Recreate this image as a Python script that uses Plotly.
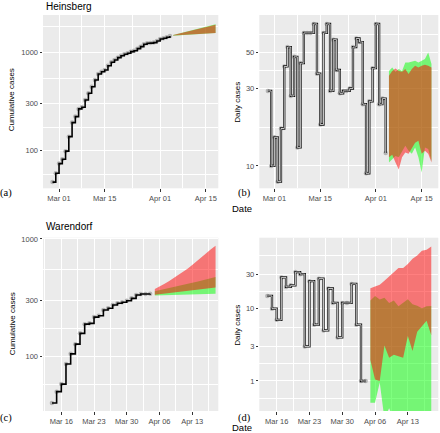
import plotly.graph_objects as go
import pandas as pd

W, H = 440, 433

# ---------------- data ----------------
hb_start = "2020-02-28"
wd_start = "2020-03-14"
fc_start = "2020-04-05"

hb_cum = [48, 59, 74, 82, 99, 139, 193, 222, 266, 276, 327, 383, 447, 523, 601, 635, 661,
          731, 791, 835, 882, 924, 955, 978, 1015, 1038, 1089, 1141, 1207, 1236, 1240, 1254,
          1304, 1366, 1387, 1420, 1465]
hb_daily = [29, 10, 15, 8, 17, 41, 54, 27, 47, 13, 43, 66, 66, 66, 75, 37, 18, 66, 75, 29,
            60, 39, 28, 29, 29, 30, 54, 61, 58, 24, 9, 25, 40, 75, 24, 26, 12]

wd_cum = [40, 50, 58, 86, 105, 127, 157, 188, 191, 216, 222, 248, 257, 274, 283, 289, 298,
          312, 333, 340, 340, 342]
wd_daily = [15, 10, 7, 27, 20, 21, 32, 30, 3, 24, 6, 26, 5, 19, 12, 4, 12, 12, 22, 6, 1, 1]

# forecasts (Apr 05 - Apr 18): green band and red band
hb_cum_green_lo = [1476, 1483, 1490, 1497, 1504, 1511, 1518, 1525, 1532, 1539, 1546, 1553, 1560, 1567]
hb_cum_green_hi = [1500, 1530, 1562, 1594, 1626, 1658, 1690, 1722, 1755, 1788, 1822, 1857, 1893, 1930]
hb_cum_red_lo = [1478, 1485, 1492, 1499, 1506, 1513, 1520, 1527, 1534, 1541, 1548, 1555, 1562, 1569]
hb_cum_red_hi = [1495, 1524, 1553, 1582, 1611, 1641, 1671, 1701, 1732, 1763, 1795, 1827, 1860, 1905]

hb_day_green_lo = [10.5, 11, 11.5, 11.3, 12.4, 13.3, 12.4, 11.9, 13, 11.3, 9.1, 13, 12.7, 10.7]
hb_day_green_hi = [38.5, 40.4, 38, 39.6, 38.5, 43.4, 43.4, 44, 44.5, 43.4, 44.5, 45.6, 50, 42.5]
hb_day_red_lo = [11.3, 11.7, 10.5, 9.5, 11.3, 12.1, 11.9, 13, 13.9, 14.3, 11.9, 12.4, 11.9, 10.5]
hb_day_red_hi = [36, 38.5, 39.9, 38.5, 38, 39.6, 36.8, 39.6, 41.4, 40.4, 41.4, 42, 41.4, 40.4]

wd_cum_green_lo = [330, 331, 332, 333, 334, 335, 336, 336, 337, 338, 338, 339, 340, 341]
wd_cum_green_hi = [358, 365, 372, 380, 388, 396, 405, 414, 423, 433, 443, 453, 463, 474]
wd_cum_red_lo = [334, 338, 342, 346, 350, 354, 358, 362, 366, 370, 374, 378, 382, 386]
wd_cum_red_hi = [375, 392, 413, 436, 462, 490, 523, 559, 600, 645, 693, 755, 817, 877]

wd_day_green_lo = [0.5, 0.5, 0.95, 0.3, 0.42, 0.3, 0.25, 0.22, 0.2, 0.2, 0.2, 0.2, 0.2, 0.2]
wd_day_green_hi = [13, 15, 13.4, 14.1, 12, 13, 10.8, 12.2, 13.5, 11.5, 11, 10.1, 10.8, 10.9]
wd_day_red_lo = [1.95, 1.05, 1.0, 3.1, 2.1, 2.3, 2.2, 2.1, 4.2, 2.6, 4.8, 5.7, 6.8, 4.3]
wd_day_red_hi = [19.2, 20.2, 21.4, 24.3, 27.8, 32, 36.4, 36.4, 41.3, 49, 54.5, 63, 65, 72.5]

hb_xticks = ["2020-03-01", "2020-03-15", "2020-04-01", "2020-04-15"]
hb_xticklabels = ["Mar 01", "Mar 15", "Apr 01", "Apr 15"]
wd_xticks = ["2020-03-16", "2020-03-23", "2020-03-30", "2020-04-06", "2020-04-13"]
wd_xticklabels = ["Mar 16", "Mar 23", "Mar 30", "Apr 06", "Apr 13"]

# ---------------- figure ----------------
fig = go.Figure()

GREEN = "rgba(0,255,0,0.5)"
RED = "rgba(255,0,0,0.5)"


def dates(start, n):
    return pd.date_range(start, periods=n, freq="D")


def band(ax, lo, hi, color):
    d = dates(fc_start, len(lo))
    xa, ya = ax
    fig.add_trace(go.Scatter(x=d, y=lo, mode="lines", line=dict(width=0, color=color),
                             xaxis=xa, yaxis=ya, showlegend=False, hoverinfo="skip"))
    fig.add_trace(go.Scatter(x=d, y=hi, mode="lines", line=dict(width=0, color=color),
                             fill="tonexty", fillcolor=color,
                             xaxis=xa, yaxis=ya, showlegend=False, hoverinfo="skip"))


def observed(ax, start, vals, hollow):
    d = dates(start, len(vals))
    xa, ya = ax
    fig.add_trace(go.Scatter(x=d, y=vals, mode="markers",
                             marker=dict(size=4.5, color="rgba(160,160,160,0.75)"),
                             xaxis=xa, yaxis=ya, showlegend=False))
    if hollow:
        fig.add_trace(go.Scatter(x=d, y=vals, mode="lines", line=dict(shape="hv", width=2.3, color="#111111"),
                                 xaxis=xa, yaxis=ya, showlegend=False))
        fig.add_trace(go.Scatter(x=d, y=vals, mode="lines", line=dict(shape="hv", width=0.8, color="#F2F2F2"),
                                 xaxis=xa, yaxis=ya, showlegend=False))
    else:
        fig.add_trace(go.Scatter(x=d, y=vals, mode="lines", line=dict(shape="hv", width=1.6, color="black"),
                                 xaxis=xa, yaxis=ya, showlegend=False))


A = ("x", "y")
B = ("x2", "y2")
C = ("x3", "y3")
D = ("x4", "y4")

band(A, hb_cum_green_lo, hb_cum_green_hi, GREEN)
band(A, hb_cum_red_lo, hb_cum_red_hi, RED)
observed(A, hb_start, hb_cum, False)

band(B, hb_day_green_lo, hb_day_green_hi, GREEN)
band(B, hb_day_red_lo, hb_day_red_hi, RED)
observed(B, hb_start, hb_daily, True)

band(C, wd_cum_green_lo, wd_cum_green_hi, GREEN)
band(C, wd_cum_red_lo, wd_cum_red_hi, RED)
observed(C, wd_start, wd_cum, False)

band(D, wd_day_green_lo, wd_day_green_hi, GREEN)
band(D, wd_day_red_lo, wd_day_red_hi, RED)
observed(D, wd_start, wd_daily, True)


def px(x):
    return x / W


def py(y):
    return 1 - y / H


TICKFONT = dict(family="Liberation Sans, Arial, sans-serif", size=7.5, color="#4D4D4D")


def xaxis(dom, rng, tv, tt, minor):
    return dict(type="date", domain=dom, range=rng, tickvals=tv, ticktext=tt,
                showgrid=True, gridcolor="white", gridwidth=1,
                minor=dict(tickvals=minor, showgrid=True, gridcolor="white", gridwidth=0.5, ticks=""),
                ticks="outside", ticklen=2.5, tickwidth=0.8, tickcolor="#333333",
                tickfont=TICKFONT, zeroline=False, showline=False, fixedrange=True,
                automargin=False)


def yaxis(dom, rng, tv, minor, anchor):
    return dict(type="log", domain=dom, range=rng, tickvals=tv, ticktext=[str(v) for v in tv],
                anchor=anchor, showgrid=True, gridcolor="white", gridwidth=1,
                minor=dict(tickvals=minor, showgrid=True, gridcolor="white", gridwidth=0.5, ticks=""),
                ticks="outside", ticklen=2.5, tickwidth=0.8, tickcolor="#333333",
                tickfont=TICKFONT, zeroline=False, showline=False, fixedrange=True,
                automargin=False)


left_dom = [px(43), px(218.3)]
right_dom = [px(259.3), px(438.3)]
top_dom = [py(188.3), py(15)]
bot_dom = [py(411), py(237.7)]

hb_minor_x = ["2020-03-08", "2020-03-23 12:00", "2020-04-08"]
wd_minor_x = ["2020-03-12 12:00", "2020-03-19 12:00", "2020-03-26 12:00",
              "2020-04-02 12:00", "2020-04-09 12:00", "2020-04-16 12:00"]

fig.update_layout(
    width=W, height=H, margin=dict(l=0, r=0, t=0, b=0, autoexpand=False),
    paper_bgcolor="white", plot_bgcolor="#EBEBEB", showlegend=False,
    xaxis=dict(xaxis(left_dom, ["2020-02-25 02:00", "2020-04-18 20:00"], hb_xticks, hb_xticklabels, hb_minor_x), anchor="y"),
    yaxis=yaxis(top_dom, [1.618, 3.379], [100, 300, 1000], [57.7, 173, 548, 1825], "x"),
    xaxis2=dict(xaxis(right_dom, ["2020-02-25 09:00", "2020-04-20 02:00"], hb_xticks, hb_xticklabels, hb_minor_x), anchor="y2"),
    yaxis2=yaxis(top_dom, [0.862, 1.930], [10, 30, 50], [5.8, 17.3, 38.7, 64.5], "x2"),
    xaxis3=dict(xaxis(left_dom, ["2020-03-12 02:00", "2020-04-18 14:00"], wd_xticks, wd_xticklabels, wd_minor_x), anchor="y3"),
    yaxis3=yaxis(bot_dom, [1.534, 3.011], [100, 300, 1000], [57.7, 173, 548, 1825], "x3"),
    xaxis4=dict(xaxis(right_dom, ["2020-03-12 07:00", "2020-04-19 12:00"], wd_xticks, wd_xticklabels, wd_minor_x), anchor="y4"),
    yaxis4=yaxis(bot_dom, [-0.415, 1.981], [1, 3, 10, 30], [0.577, 1.73, 5.48, 17.3, 54.8], "x4"),
)

SANS = "Liberation Sans, Arial, sans-serif"
SERIF = "Liberation Serif, Times New Roman, serif"


def ann(text, x, y, size, family=SANS, angle=0, xanchor="center", color="black"):
    fig.add_annotation(text=text, x=px(x), y=py(y), xref="paper", yref="paper",
                       showarrow=False, textangle=angle, xanchor=xanchor, yanchor="middle",
                       font=dict(family=family, size=size, color=color))


ann("Heinsberg", 44, 6.5, 10, xanchor="left")
ann("Warendorf", 44, 226, 10, xanchor="left")
ann("Cumulative cases", 12.3, 100, 8, angle=-90)
ann("Cumulative cases", 12.3, 324, 8, angle=-90)
ann("Daily cases", 236.7, 102, 8, angle=-90)
ann("Daily cases", 236.7, 325, 8, angle=-90)
ann("Date", 242, 208, 9.5)
ann("Date", 242, 427.5, 9.5)
ann("(a)", 6, 192.5, 10.5, family=SERIF)
ann("(b)", 244, 192.5, 10.5, family=SERIF)
ann("(c)", 6, 417.5, 10.5, family=SERIF)
ann("(d)", 244, 417.5, 10.5, family=SERIF)

fig.write_html(
    "out.html",
    config={"displayModeBar": False},
    post_script="document.body.style.margin='0';document.body.style.padding='0';",
)
